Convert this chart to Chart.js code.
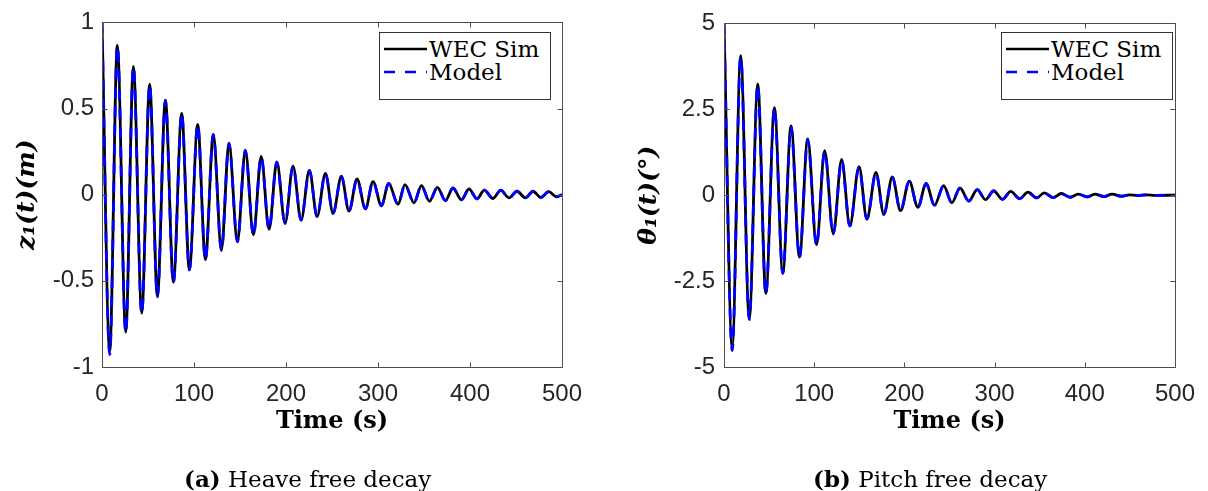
<!DOCTYPE html>
<html>
<head>
<meta charset="utf-8">
<script src="https://cdn.jsdelivr.net/npm/chart.js@4.4.0/dist/chart.umd.min.js"></script>
<style>
  html, body { margin: 0; padding: 0; background: #fff; }
  body { width: 1208px; height: 491px; position: relative; overflow: hidden; }
  canvas { position: absolute; top: 0; }
  #heave { left: 0; }
  #pitch { left: 604px; }
  svg.overlay { position: absolute; left: 0; top: 0; pointer-events: none; }
</style>
</head>
<body>
<canvas id="heave" width="604" height="445"></canvas>
<canvas id="pitch" width="604" height="445"></canvas>

<svg class="overlay" width="1208" height="491" font-family="DejaVu Serif">
  <!-- legends -->
  <g id="legendHeave" transform="translate(379,32)">
    <rect x="0.5" y="0.5" width="171" height="67" fill="#fff" stroke="#333" stroke-width="1"/>
    <line x1="5" y1="17" x2="48" y2="17" stroke="#000" stroke-width="2.5"/>
    <line x1="5" y1="40" x2="48" y2="40" stroke="#0000ff" stroke-width="2.5" stroke-dasharray="11 10"/>
    <text x="50" y="24.5" font-size="23" fill="#000">WEC Sim</text>
    <text x="50" y="48" font-size="23" fill="#000">Model</text>
  </g>
  <g id="legendPitch" transform="translate(1001,32)">
    <rect x="0.5" y="0.5" width="171" height="67" fill="#fff" stroke="#333" stroke-width="1"/>
    <line x1="5" y1="17" x2="48" y2="17" stroke="#000" stroke-width="2.5"/>
    <line x1="5" y1="40" x2="48" y2="40" stroke="#0000ff" stroke-width="2.5" stroke-dasharray="11 10"/>
    <text x="50" y="24.5" font-size="23" fill="#000">WEC Sim</text>
    <text x="50" y="48" font-size="23" fill="#000">Model</text>
  </g>
  <!-- captions -->
  <text x="184" y="487" font-size="23" fill="#000"><tspan font-weight="bold">(a)</tspan> Heave free decay</text>
  <text x="813" y="487" font-size="23" fill="#000"><tspan font-weight="bold">(b)</tspan> Pitch free decay</text>
</svg>

<script>
// time axis ticks (s)
const timeTicks = [0, 100, 200, 300, 400, 500];

// heave free decay: extrema
const heaveTime = [0, 8.4, 16.7, 25.8, 34.1, 43.2, 51.8, 60.2, 68.9, 77.6, 86.6, 95.0, 104.0, 112.4, 121.0,
  129.8, 138.0, 147.2, 155.8, 164.6, 173.0, 181.6, 190.0, 199.0, 207.6, 216.4, 225.4, 233.8, 242.8, 251.2,
  260.2, 268.5, 277.2, 286.3, 294.6, 303.7, 311.6, 321.8, 329.3, 339.1, 347.2, 355.9, 364.6, 373.3, 381.5,
  390.7, 398.9, 407.6, 415.6, 425.0, 433.4, 442.4, 451.0, 460.2, 468.5, 477.0, 485.6, 494.0, 500];
const heaveSim = [1.0, -0.905, 0.866, -0.797, 0.745, -0.687, 0.641, -0.591, 0.549, -0.508, 0.472, -0.435, 0.408, -0.376, 0.350,
  -0.322, 0.299, -0.272, 0.258, -0.233, 0.222, -0.201, 0.191, -0.166, 0.166, -0.148, 0.141, -0.127, 0.124, -0.108,
  0.107, -0.095, 0.091, -0.082, 0.076, -0.064, 0.066, -0.056, 0.059, -0.047, 0.053, -0.038, 0.043, -0.034, 0.039,
  -0.030, 0.033, -0.024, 0.026, -0.022, 0.026, -0.018, 0.020, -0.018, 0.020, -0.016, 0.018, -0.012, 0.0];
const heaveModel = [1.0, -0.928, 0.860, -0.800, 0.742, -0.690, 0.638, -0.593, 0.546, -0.510, 0.470, -0.437, 0.405, -0.377, 0.348,
  -0.323, 0.297, -0.273, 0.256, -0.234, 0.220, -0.201, 0.189, -0.166, 0.164, -0.148, 0.140, -0.127, 0.122, -0.108,
  0.106, -0.095, 0.090, -0.082, 0.075, -0.064, 0.065, -0.056, 0.058, -0.047, 0.052, -0.038, 0.042, -0.034, 0.038,
  -0.030, 0.032, -0.024, 0.026, -0.022, 0.025, -0.018, 0.020, -0.018, 0.019, -0.016, 0.017, -0.012, 0.0];
const heaveTicks = [-1, -0.5, 0, 0.5, 1];

// pitch free decay: extrema (deg)
const pitchTime = [0, 9.1, 18.5, 28.0, 37.4, 46.4, 55.9, 65.2, 74.3, 83.7, 92.8, 102.6, 111.6, 121.1, 130.4,
  139.5, 149.7, 158.4, 168.5, 177.2, 186.6, 195.7, 205.4, 214.9, 224.1, 233.4, 243.5, 252.6, 261.6, 271.4,
  280.8, 289.9, 298.9, 308.7, 317.8, 327.9, 337.0, 346.7, 355.1, 364.9, 373.9, 383.7, 392.8, 402.9, 411.3,
  421.4, 430.1, 440.2, 449.5, 459.0, 468.5, 478.0, 500];
const pitchSim = [5.0, -4.40, 4.06, -3.60, 3.24, -2.86, 2.55, -2.26, 2.02, -1.80, 1.64, -1.44, 1.30, -1.12, 1.04,
  -0.89, 0.83, -0.69, 0.66, -0.56, 0.53, -0.45, 0.41, -0.35, 0.34, -0.29, 0.28, -0.22, 0.21, -0.17,
  0.16, -0.13, 0.13, -0.12, 0.11, -0.10, 0.09, -0.08, 0.07, -0.07, 0.05, -0.06, 0.03, -0.05, 0.03,
  -0.04, 0.03, -0.03, 0.01, -0.01, 0.01, -0.005, 0.0];
const pitchModel = [5.0, -4.52, 4.02, -3.62, 3.20, -2.88, 2.52, -2.28, 1.98, -1.81, 1.60, -1.45, 1.27, -1.13, 1.01,
  -0.90, 0.81, -0.70, 0.64, -0.56, 0.51, -0.45, 0.40, -0.35, 0.33, -0.29, 0.27, -0.22, 0.20, -0.17,
  0.16, -0.13, 0.12, -0.12, 0.10, -0.10, 0.08, -0.08, 0.06, -0.07, 0.05, -0.06, 0.03, -0.05, 0.03,
  -0.04, 0.02, -0.03, 0.01, -0.01, 0.01, -0.005, 0.0];
const pitchTicks = [-5, -2.5, 0, 2.5, 5];

function pts(xs, ys) {
  return xs.map((x, i) => ({ x: x, y: ys[i] }));
}

// matlab style box with inward ticks
const boxPlugin = {
  id: 'box',
  afterDraw(chart) {
    const ctx = chart.ctx, a = chart.chartArea;
    const xs = chart.scales.x, ys = chart.scales.y;
    const L = Math.round(a.left) + 0.5, R = Math.round(a.right) + 0.5;
    const T = Math.round(a.top) + 0.5, B = Math.round(a.bottom) + 0.5;
    const len = 5;
    ctx.save();
    ctx.strokeStyle = '#4d4d4d';
    ctx.lineWidth = 1;
    ctx.beginPath();
    ctx.rect(L, T, R - L, B - T);
    xs.ticks.forEach(t => {
      const px = Math.round(xs.getPixelForValue(t.value)) + 0.5;
      ctx.moveTo(px, B); ctx.lineTo(px, B - len);
      ctx.moveTo(px, T); ctx.lineTo(px, T + len);
    });
    ys.ticks.forEach(t => {
      const py = Math.round(ys.getPixelForValue(t.value)) + 0.5;
      ctx.moveTo(L, py); ctx.lineTo(L + len, py);
      ctx.moveTo(R, py); ctx.lineTo(R - len, py);
    });
    ctx.stroke();
    ctx.restore();
  }
};

function makeChart(id, time, sim, model, yTicks, yTitle, yWidth, padRight, yTitlePad, yPad) {
  const tickFont = { family: 'Liberation Sans', size: 24 };
  return new Chart(document.getElementById(id), {
    type: 'line',
    data: {
      datasets: [
        {
          label: 'WEC Sim',
          data: pts(time, sim),
          borderColor: '#000000',
          borderWidth: 2.8,
          pointRadius: 0,
          cubicInterpolationMode: 'monotone',
          order: 2
        },
        {
          label: 'Model',
          data: pts(time, model),
          borderColor: '#0000ff',
          borderWidth: 2.8,
          borderDash: [11, 8],
          pointRadius: 0,
          cubicInterpolationMode: 'monotone',
          order: 1
        }
      ]
    },
    options: {
      responsive: false,
      animation: false,
      devicePixelRatio: 1,
      layout: { padding: { left: 0, right: padRight, top: 20, bottom: 0 } },
      plugins: { legend: { display: false }, tooltip: { enabled: false } },
      scales: {
        x: {
          type: 'linear',
          min: 0, max: 500,
          afterBuildTicks: s => { s.ticks = timeTicks.map(v => ({ value: v })); },
          afterFit: s => { s.height = 78; },
          grid: { display: false, drawTicks: false },
          border: { display: false },
          ticks: { font: tickFont, color: '#262626', padding: 13, maxRotation: 0, callback: v => String(v) },
          title: {
            display: true,
            text: 'Time (s)',
            font: { family: 'DejaVu Serif', size: 24, weight: 'bold' },
            color: '#000',
            padding: { top: 0, bottom: 9 }
          }
        },
        y: {
          min: yTicks[0], max: yTicks[yTicks.length - 1],
          afterBuildTicks: s => { s.ticks = yTicks.map(v => ({ value: v })); },
          afterFit: s => { s.width = yWidth; },
          grid: { display: false, drawTicks: false },
          border: { display: false },
          ticks: { font: tickFont, color: '#262626', padding: yPad, callback: v => String(v) },
          title: {
            display: true,
            text: yTitle,
            font: { family: 'DejaVu Serif', size: 25, weight: 'bold', style: 'italic' },
            color: '#000',
            padding: { top: yTitlePad, bottom: 0 }
          }
        }
      }
    },
    plugins: [boxPlugin]
  });
}

makeChart('heave', heaveTime, heaveSim, heaveModel, heaveTicks, 'z\u2081(t)(m)', 102, 42, 12, 8);
makeChart('pitch', pitchTime, pitchSim, pitchModel, pitchTicks, '\u03b8\u2081(t)(\u00b0)', 120, 24, 30, 9);
</script>
</body>
</html>
